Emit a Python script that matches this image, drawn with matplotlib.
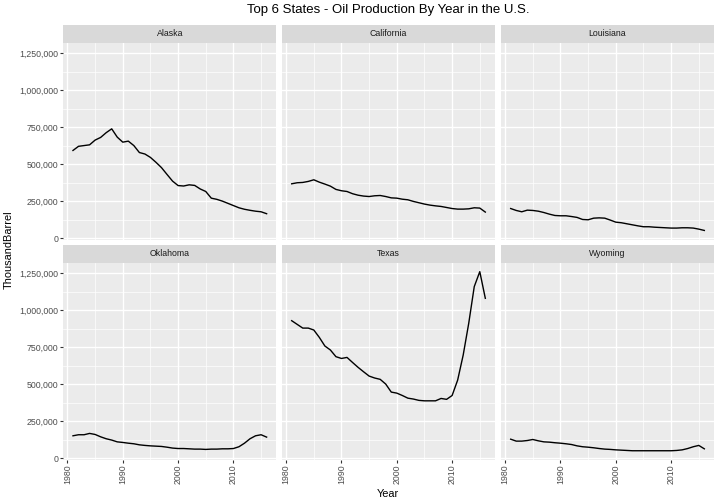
import numpy as np
import matplotlib
matplotlib.use("Agg")
import matplotlib.pyplot as plt
from matplotlib.ticker import FuncFormatter, FixedLocator

plt.rcParams['font.family'] = ['Liberation Sans', 'DejaVu Sans']

# data (thousand barrels)
years = list(range(1981, 2017))
states = ["Alaska", "California", "Louisiana", "Oklahoma", "Texas", "Wyoming"]

alaska = [592, 620, 625, 630, 662, 680, 712, 738, 682, 648, 655, 625, 578, 568, 545, 512,
          476, 430, 385, 355, 352, 360, 356, 332, 315, 270, 262, 250, 235, 220, 205, 195,
          188, 182, 178, 165]
california = [367, 374, 376, 383, 394, 378, 365, 351, 329, 320, 315, 300, 290, 284, 281, 286,
              288, 281, 272, 270, 263, 259, 248, 239, 230, 223, 218, 214, 207, 200, 196, 196,
              198, 205, 203, 176]
louisiana = [200, 187, 178, 189, 187, 182, 173, 162, 153, 151, 151, 146, 140, 126, 124, 135,
             137, 135, 122, 108, 104, 97, 90, 83, 77, 77, 74, 72, 70, 68, 68, 70,
             70, 68, 61, 52]
oklahoma = [151, 158, 158, 167, 160, 144, 131, 122, 110, 106, 101, 97, 90, 86, 83, 81,
            79, 74, 68, 65, 65, 63, 61, 61, 59, 61, 61, 63, 63, 65, 77, 101,
            131, 151, 158, 142]
texas = [928, 903, 878, 878, 865, 815, 757, 730, 685, 673, 680, 646, 613, 583, 554, 541,
         532, 500, 446, 439, 423, 405, 399, 390, 387, 387, 387, 403, 397, 423, 527, 696,
         910, 1158, 1259, 1079]
wyoming = [128, 115, 115, 119, 126, 117, 110, 108, 104, 101, 97, 92, 83, 77, 74, 70,
           65, 61, 59, 56, 54, 52, 50, 50, 50, 50, 50, 50, 50, 50, 52, 56,
           65, 77, 86, 63]

series = [alaska, california, louisiana, oklahoma, texas, wyoming]
series = [np.array(s) * 1000 for s in series]

# ggplot-like scales
allv = np.concatenate(series)
lo, hi = allv.min(), allv.max()
pad = 0.05 * (hi - lo)
ylim = (lo - pad, hi + pad)
xpad = 0.05 * (years[-1] - years[0])
xlim = (years[0] - xpad, years[-1] + xpad)

W, H = 720, 504
fig = plt.figure(figsize=(7.2, 5.04), dpi=100)
fig.patch.set_facecolor('white')

col_x = [63.3, 282, 501]
pw = 213
row_y = [42.7, 262.7]  # top of plot area (pixels from top)
ph = 197
strip_h = 18

fmt = FuncFormatter(lambda v, p: f"{int(v):,}")

for i, (name, vals) in enumerate(zip(states, series)):
    r, c = divmod(i, 3)
    x0 = col_x[c]
    y0 = row_y[r]
    ax = fig.add_axes([x0 / W, 1 - (y0 + ph) / H, pw / W, ph / H])
    ax.set_facecolor('#EBEBEB')
    for s in ax.spines.values():
        s.set_visible(False)
    ax.plot(years, vals, color='black', lw=1.0, zorder=3)
    ax.set_xlim(*xlim)
    ax.set_ylim(*ylim)
    ax.xaxis.set_major_locator(FixedLocator([1980, 1990, 2000, 2010]))
    ax.xaxis.set_minor_locator(FixedLocator([1985, 1995, 2005, 2015]))
    ax.yaxis.set_major_locator(FixedLocator([0, 250000, 500000, 750000, 1000000, 1250000]))
    ax.yaxis.set_minor_locator(FixedLocator([125000, 375000, 625000, 875000, 1125000]))
    ax.grid(which='major', color='white', lw=1.0)
    ax.grid(which='minor', color='white', lw=0.5)
    ax.set_axisbelow(True)
    ax.tick_params(which='major', length=2, width=0.8, color='#333333',
                   labelsize=6.3, labelcolor='#4D4D4D', pad=1.5)
    ax.tick_params(which='minor', length=0)
    ax.yaxis.set_major_formatter(fmt)
    if c != 0:
        ax.tick_params(axis='y', which='major', length=0, labelleft=False)
    if r == 0:
        ax.tick_params(axis='x', which='major', length=0, labelbottom=False)
    else:
        for lab in ax.get_xticklabels():
            lab.set_rotation(90)

    sax = fig.add_axes([x0 / W, 1 - y0 / H, pw / W, strip_h / H])
    sax.set_facecolor('#D9D9D9')
    sax.set_xticks([])
    sax.set_yticks([])
    for s in sax.spines.values():
        s.set_visible(False)
    sax.text(0.5, 0.5, name, ha='center', va='center', fontsize=6.3,
             color='#1A1A1A', transform=sax.transAxes)

fig.text(388 / W, 1 - 10 / H, "Top 6 States - Oil Production By Year in the U.S.",
         ha='center', va='center', fontsize=9.5, color='black')
fig.text(388 / W, 1 - 494 / H, "Year", ha='center', va='center', fontsize=7.9)
fig.text(9 / W, 1 - 250 / H, "ThousandBarrel", ha='center', va='center',
         rotation=90, fontsize=7.9)

fig.savefig("out.png", dpi=100)
